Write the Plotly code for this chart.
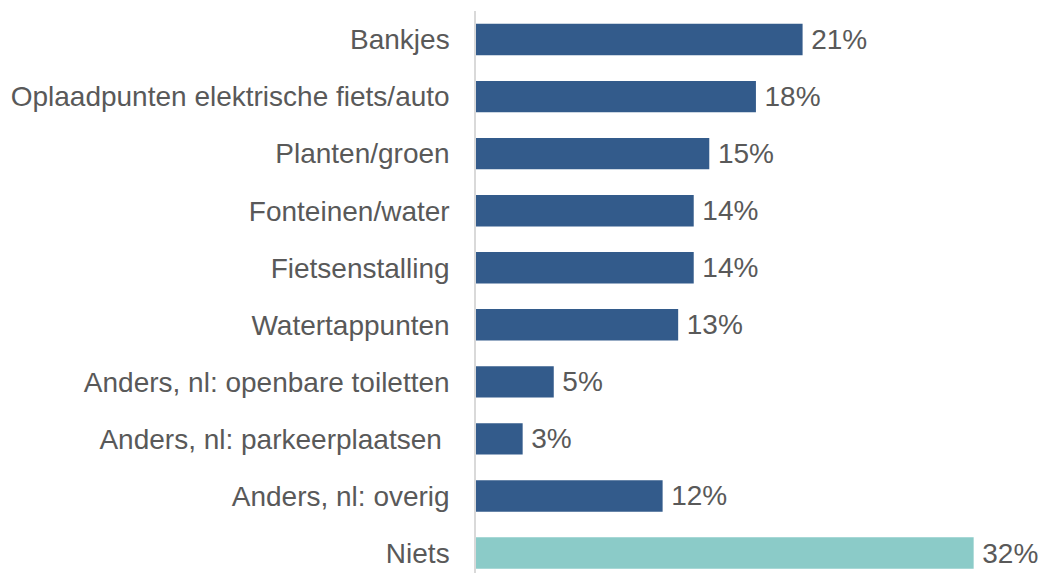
import plotly.graph_objects as go

categories = ["Bankjes", "Oplaadpunten elektrische fiets/auto", "Planten/groen",
              "Fonteinen/water", "Fietsenstalling", "Watertappunten",
              "Anders, nl: openbare toiletten", "Anders, nl: parkeerplaatsen ",
              "Anders, nl: overig", "Niets"]
values = [21, 18, 15, 14, 14, 13, 5, 3, 12, 32]
bar_colors = ["#335b8b"] * 9 + ["#8bcbc8"]

fig = go.Figure()
fig.add_trace(go.Bar(
    y=categories, x=values, orientation="h",
    marker=dict(color=bar_colors, line=dict(width=0)),
    texttemplate="\u2009%{x}%", textposition="outside",
    textfont=dict(size=28, color="#595959", family="Liberation Sans, Arial"),
    cliponaxis=False, width=0.55, showlegend=False, hoverinfo="skip",
))

# page body has an 8px margin, so the figure sits at (8, 8)
fig.update_layout(
    width=1033, height=565,
    margin=dict(l=468, r=0, t=3, b=0),
    plot_bgcolor="white", paper_bgcolor="white",
    font=dict(family="Liberation Sans, Arial", size=28, color="#595959"),
)
fig.update_xaxes(range=[0, 36.33], visible=False, showgrid=False)
fig.update_yaxes(range=[9.35, -0.5], showgrid=False, showline=True,
                 linecolor="#d9d9d9", linewidth=1.5, ticks="",
                 ticklabelstandoff=19, tickfont=dict(size=28, color="#595959"))

fig.write_html("out.html")
